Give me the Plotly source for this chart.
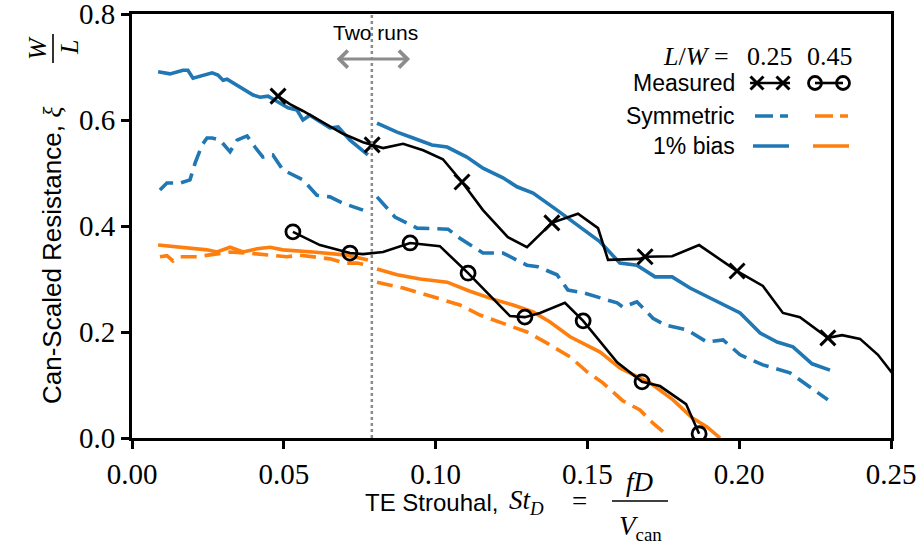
import plotly.graph_objects as go

# ---------------- data ----------------
# Measured, L/W = 0.25
meas25_x = [0.0481, 0.0520, 0.0563, 0.0652, 0.0695, 0.0761, 0.0791, 0.0827, 0.0893, 0.0959,
            0.1024, 0.1087, 0.1156, 0.1238, 0.1301, 0.1383, 0.1469, 0.1535, 0.1568, 0.1673,
            0.1690, 0.1779, 0.1868, 0.1993, 0.2078, 0.2144, 0.2200, 0.2292, 0.2339, 0.2398,
            0.2457, 0.2503]
meas25_y = [0.645, 0.630, 0.617, 0.587, 0.574, 0.558, 0.553, 0.547, 0.555, 0.543,
            0.526, 0.483, 0.430, 0.379, 0.360, 0.406, 0.423, 0.396, 0.336, 0.338,
            0.342, 0.343, 0.364, 0.315, 0.287, 0.236, 0.228, 0.189, 0.194, 0.187,
            0.157, 0.123]
meas25_marks = [0, 6, 11, 15, 20, 23, 27]

# Measured, L/W = 0.45
meas45_x = [0.0530, 0.0619, 0.0718, 0.0761, 0.0827, 0.0916, 0.1014, 0.1107, 0.1245, 0.1294,
            0.1344, 0.1426, 0.1486, 0.1598, 0.1680, 0.1739, 0.1825, 0.1868]
meas45_y = [0.389, 0.364, 0.349, 0.347, 0.351, 0.368, 0.362, 0.311, 0.230, 0.228,
            0.236, 0.255, 0.221, 0.143, 0.106, 0.098, 0.064, 0.008]
meas45_marks = [0, 2, 5, 7, 9, 12, 14, 17]

# 1% bias, L/W = 0.25 (two runs)
bias25a_x = [0.0086, 0.0125, 0.0168, 0.0184, 0.0201, 0.0264, 0.0283, 0.0300, 0.0313, 0.0356,
             0.0399, 0.0422, 0.0448, 0.0481, 0.0514, 0.0543, 0.0563, 0.0586, 0.0652, 0.0679,
             0.0718, 0.0777]
bias25a_y = [0.691, 0.687, 0.694, 0.694, 0.679, 0.689, 0.685, 0.675, 0.677, 0.662,
             0.647, 0.643, 0.645, 0.634, 0.623, 0.619, 0.600, 0.609, 0.585, 0.587,
             0.562, 0.534]
bias25b_x = [0.0807, 0.0873, 0.0926, 0.0988, 0.1038, 0.1103, 0.1156, 0.1222, 0.1268, 0.1321,
             0.1400, 0.1466, 0.1542, 0.1607, 0.1663, 0.1723, 0.1779, 0.1838, 0.1904, 0.2003,
             0.2069, 0.2125, 0.2177, 0.2240, 0.2299]
bias25b_y = [0.594, 0.577, 0.566, 0.553, 0.549, 0.530, 0.509, 0.491, 0.474, 0.462,
             0.430, 0.402, 0.370, 0.330, 0.326, 0.304, 0.304, 0.283, 0.264, 0.236,
             0.198, 0.181, 0.172, 0.140, 0.128]

# Symmetric, L/W = 0.25 (two runs)
sym25a_x = [0.0092, 0.0115, 0.0158, 0.0191, 0.0208, 0.0231, 0.0247, 0.0264, 0.0290, 0.0323,
            0.0346, 0.0379, 0.0405, 0.0431, 0.0464, 0.0497, 0.0563, 0.0609, 0.0652, 0.0695,
            0.0761]
sym25a_y = [0.468, 0.481, 0.481, 0.487, 0.519, 0.553, 0.566, 0.566, 0.562, 0.540,
            0.562, 0.570, 0.549, 0.530, 0.534, 0.506, 0.487, 0.458, 0.455, 0.443,
            0.430]
sym25b_x = [0.0807, 0.0866, 0.0939, 0.1041, 0.1080, 0.1156, 0.1222, 0.1301, 0.1337, 0.1400,
            0.1436, 0.1486, 0.1598, 0.1617, 0.1663, 0.1716, 0.1756, 0.1828, 0.1894, 0.1947,
            0.2003, 0.2078, 0.2167, 0.2223, 0.2292]
sym25b_y = [0.455, 0.417, 0.396, 0.394, 0.377, 0.349, 0.349, 0.326, 0.323, 0.308,
            0.279, 0.274, 0.255, 0.247, 0.257, 0.226, 0.213, 0.204, 0.181, 0.185,
            0.157, 0.138, 0.123, 0.100, 0.072]

# 1% bias, L/W = 0.45
bias45a_x = [0.0086, 0.0158, 0.0247, 0.0280, 0.0323, 0.0366, 0.0412, 0.0455, 0.0497, 0.0596,
             0.0708, 0.0777]
bias45a_y = [0.364, 0.360, 0.355, 0.351, 0.360, 0.351, 0.357, 0.360, 0.355, 0.351,
             0.345, 0.336]
bias45b_x = [0.0807, 0.0873, 0.0949, 0.1038, 0.1113, 0.1189, 0.1255, 0.1321, 0.1377, 0.1443,
             0.1542, 0.1607, 0.1706, 0.1782, 0.1845, 0.1894, 0.1937]
bias45b_y = [0.319, 0.308, 0.300, 0.294, 0.277, 0.262, 0.251, 0.238, 0.219, 0.191,
             0.162, 0.132, 0.104, 0.072, 0.038, 0.021, 0.000]

# Symmetric, L/W = 0.45
sym45a_x = [0.0092, 0.0115, 0.0135, 0.0158, 0.0214, 0.0323, 0.0379, 0.0464, 0.0510, 0.0553,
            0.0609, 0.0652, 0.0701, 0.0741, 0.0777]
sym45a_y = [0.342, 0.344, 0.334, 0.342, 0.342, 0.351, 0.349, 0.345, 0.342, 0.345,
            0.342, 0.338, 0.330, 0.330, 0.326]
sym45b_x = [0.0807, 0.0893, 0.1005, 0.1080, 0.1146, 0.1222, 0.1301, 0.1367, 0.1443, 0.1499,
            0.1551, 0.1617, 0.1673, 0.1716, 0.1762]
sym45b_y = [0.294, 0.283, 0.264, 0.251, 0.232, 0.217, 0.200, 0.179, 0.153, 0.125,
            0.104, 0.070, 0.053, 0.028, 0.006]

split_st = 0.079  # boundary between the two runs

x_ticks = [0.00, 0.05, 0.10, 0.15, 0.20, 0.25]
y_ticks = [0.0, 0.2, 0.4, 0.6, 0.8]

BLUE = "#1f77b4"
ORANGE = "#ff7f0e"
GRAY = "#8c8c8c"
DASH = "16px,8px"
SERIF = "Liberation Serif"
SANS = "Liberation Sans"

# plot-area geometry in pixels
L, R, T, B = 132, 891, 14, 438
W_, H_ = 919, 555


def px(xp):
    return (xp - L) / (R - L)


def py(yp):
    return (B - yp) / (B - T)


fig = go.Figure()

# model curves
for xs, ys in [(sym25a_x, sym25a_y), (sym25b_x, sym25b_y)]:
    fig.add_trace(go.Scatter(x=xs, y=ys, mode="lines",
                             line=dict(color=BLUE, width=3.6, dash=DASH)))
for xs, ys in [(bias25a_x, bias25a_y), (bias25b_x, bias25b_y)]:
    fig.add_trace(go.Scatter(x=xs, y=ys, mode="lines",
                             line=dict(color=BLUE, width=3.6)))
for xs, ys in [(sym45a_x, sym45a_y), (sym45b_x, sym45b_y)]:
    fig.add_trace(go.Scatter(x=xs, y=ys, mode="lines",
                             line=dict(color=ORANGE, width=3.6, dash=DASH)))
for xs, ys in [(bias45a_x, bias45a_y), (bias45b_x, bias45b_y)]:
    fig.add_trace(go.Scatter(x=xs, y=ys, mode="lines",
                             line=dict(color=ORANGE, width=3.6)))

# measured
fig.add_trace(go.Scatter(x=meas25_x, y=meas25_y, mode="lines",
                         line=dict(color="black", width=2.6)))
fig.add_trace(go.Scatter(x=[meas25_x[i] for i in meas25_marks],
                         y=[meas25_y[i] for i in meas25_marks], mode="markers",
                         marker=dict(symbol="x-thin-open", size=15, color="black",
                                     line=dict(color="black", width=3))))
fig.add_trace(go.Scatter(x=meas45_x, y=meas45_y, mode="lines",
                         line=dict(color="black", width=2.6)))
fig.add_trace(go.Scatter(x=[meas45_x[i] for i in meas45_marks],
                         y=[meas45_y[i] for i in meas45_marks], mode="markers",
                         marker=dict(symbol="circle-open", size=14, color="black",
                                     line=dict(color="black", width=2.8))))

annotations = []
shapes = []


def ann(xp, yp, text, size=23, family=SANS, xanchor="center", yanchor="middle",
        angle=0):
    annotations.append(dict(x=px(xp), y=py(yp), xref="paper", yref="paper",
                            text=text, showarrow=False, xanchor=xanchor,
                            yanchor=yanchor, textangle=angle,
                            font=dict(family=family, size=size, color="black")))


def seg(x0, y0, x1, y1, color="black", width=2.6, dash="solid"):
    shapes.append(dict(type="line", xref="paper", yref="paper",
                       x0=px(x0), x1=px(x1), y0=py(y0), y1=py(y1),
                       line=dict(color=color, width=width, dash=dash)))


def xmark(cx, cy, r=6.5):
    seg(cx - r, cy - r, cx + r, cy + r, width=3)
    seg(cx - r, cy + r, cx + r, cy - r, width=3)


def omark(cx, cy, r=6.5):
    shapes.append(dict(type="circle", xref="paper", yref="paper",
                       x0=px(cx - r), x1=px(cx + r), y0=py(cy + r), y1=py(cy - r),
                       line=dict(color="black", width=2.8), fillcolor="rgba(0,0,0,0)"))


# ---------- custom legend ----------
ann(737, 57, "<i>L</i>/<i>W</i> = ", size=26, family=SERIF, xanchor="right")
ann(770, 57, "0.25", size=26, family=SERIF)
ann(830, 57, "0.45", size=26, family=SERIF)
ann(737, 83, "Measured", xanchor="right")
ann(737, 116, "Symmetric", xanchor="right")
ann(737, 146, "1% bias", xanchor="right")

seg(750, 83, 790, 83)
xmark(757, 83)
xmark(783, 83)
seg(815, 83, 843, 83)
omark(815, 83)
omark(843, 83)
seg(755, 116, 788, 116, color=BLUE, width=3.6, dash="18px,7px")
seg(815, 116, 848, 116, color=ORANGE, width=3.6, dash="18px,7px")
seg(753, 146, 789, 146, color=BLUE, width=3.6)
seg(813, 146, 849, 146, color=ORANGE, width=3.6)

# "Two runs"
ann(375, 32, "Two runs", size=21)
annotations.append(dict(x=0.0916, y=0.715, ax=0.0669, ay=0.715, xref="x", yref="y",
                        axref="x", ayref="y", text="", showarrow=True,
                        arrowside="end+start", arrowhead=4, startarrowhead=4,
                        arrowsize=1.1, startarrowsize=1.1,
                        arrowwidth=3, arrowcolor=GRAY))

# x-axis title
ann(500, 502, "TE Strouhal,", size=24, xanchor="right")
ann(507, 502, "<i>St</i><sub><i>D</i></sub>", size=27, family=SERIF, xanchor="left")
ann(579, 501, "=", size=27, family=SERIF)
ann(640, 482, "<i>fD</i>", size=27, family=SERIF)
ann(640, 528, "<i>V</i><sub>can</sub>", size=27, family=SERIF)
seg(612, 501, 668, 501, width=1.6)

# y-axis title
ann(52, 255,
    "Can-Scaled Resistance, <span style=\"font-family:'Liberation Serif'\"><i>ξ</i></span>",
    size=26, angle=-90)
ann(37, 48, "<i>W</i>", size=26, family=SERIF, angle=-90)
ann(69, 48, "<i>L</i>", size=26, family=SERIF, angle=-90)
seg(53, 34, 53, 63, width=1.6)

shapes.append(dict(type="line", xref="x", yref="paper", x0=split_st, x1=split_st,
                   y0=0, y1=1, line=dict(color=GRAY, width=2.5, dash="dot"),
                   layer="above"))

axis_common = dict(showgrid=False, zeroline=False, showline=True, mirror=True,
                   linecolor="black", linewidth=3, ticks="outside", ticklen=8,
                   tickwidth=2.5, tickcolor="black", automargin=False,
                   ticklabeloverflow="allow",
                   tickfont=dict(family=SERIF, size=29, color="black"))

fig.update_layout(
    width=W_, height=H_,
    margin=dict(l=L, r=W_ - R, t=T, b=H_ - B, pad=0, autoexpand=False),
    paper_bgcolor="white", plot_bgcolor="white",
    showlegend=False,
    xaxis=dict(range=[0, 0.25], tickvals=x_ticks,
               ticktext=[f"{v:.2f}" for v in x_ticks], **axis_common),
    yaxis=dict(range=[0, 0.8], tickvals=y_ticks,
               ticktext=[f"{v:.1f}" for v in y_ticks], **axis_common),
    annotations=annotations,
    shapes=shapes,
)

fig.write_html("out.html")
